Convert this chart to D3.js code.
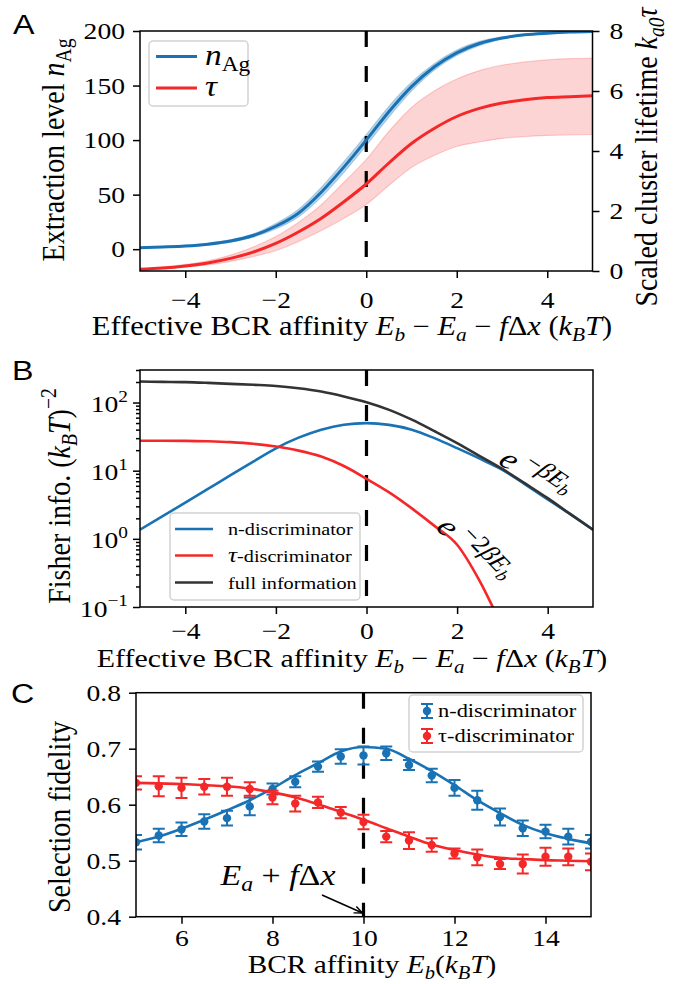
<!DOCTYPE html>
<html>
<head>
<meta charset="utf-8">
<script src="https://cdn.jsdelivr.net/npm/d3@7"></script>
<style>
  body { margin: 0; background: #fff; }
</style>
</head>
<body>
<svg id="fig" width="679" height="984"></svg>
<script>
// ---- data ----
// panel A / B share the effective affinity grid
var effAff = [-5, -4.5, -4, -3.5, -3, -2.5, -2, -1.5, -1, -0.5, 0, 0.5, 1, 1.5, 2, 2.5, 3, 3.5, 4, 4.5, 5];
var nAg   = [1.3, 2.0, 2.9, 4.6, 7.5, 12.5, 21, 33, 52, 75, 100, 126, 149, 167, 180, 188.5, 193.5, 196.5, 198, 199, 199.5];
var nAgLo = [1.0, 1.6, 2.4, 3.9, 6.5, 11, 18.5, 29.5, 47.5, 70, 95, 121, 145, 164, 177.5, 186.5, 192.5, 196, 197.5, 198.8, 199.3];
var nAgHi = [1.6, 2.4, 3.4, 5.3, 8.5, 14, 23.5, 36.5, 56.5, 80, 105, 131, 153, 170, 182.5, 190.5, 194.5, 197, 198.5, 199.3, 199.7];
var tau   = [0.06, 0.1, 0.17, 0.27, 0.42, 0.63, 0.92, 1.3, 1.75, 2.3, 2.9, 3.6, 4.25, 4.75, 5.15, 5.42, 5.6, 5.71, 5.78, 5.81, 5.84];
var tauLo = [0.04, 0.07, 0.13, 0.2, 0.32, 0.48, 0.68, 0.98, 1.34, 1.75, 2.22, 2.85, 3.45, 3.85, 4.15, 4.3, 4.42, 4.48, 4.52, 4.54, 4.55];
var tauHi = [0.08, 0.13, 0.22, 0.34, 0.53, 0.8, 1.15, 1.62, 2.2, 2.95, 3.72, 4.65, 5.45, 6.0, 6.4, 6.68, 6.86, 6.97, 7.04, 7.08, 7.1];

var fisherFull = [203, 201, 199, 194, 188, 182, 175, 162, 145, 123, 101, 78, 56, 38, 25.4, 16.4, 10.6, 6.5, 3.95, 2.3, 1.36];
var fisherN    = [1.36, 2.15, 3.4, 5.4, 8.6, 13.6, 21.3, 30.5, 40, 47.3, 49.8, 47, 40, 30, 21.4, 15, 10.3, 6.3, 3.8, 2.3, 1.36];
var fisherTau  = [27.5, 27.5, 27.4, 27, 26.2, 24.8, 22.6, 19.7, 16.1, 11.7, 7.6, 4.8, 2.8, 1.55, 0.82, 0.24, 0.05];

// panel C
var bcrAff    = [5, 5.5, 6, 6.5, 7, 7.5, 8, 8.5, 9, 9.5, 10, 10.5, 11, 11.5, 12, 12.5, 13, 13.5, 14, 14.5, 15];
var fidN      = [0.533, 0.545, 0.556, 0.570, 0.576, 0.597, 0.628, 0.641, 0.668, 0.686, 0.688, 0.692, 0.671, 0.652, 0.630, 0.608, 0.578, 0.558, 0.552, 0.543, 0.534];
var fidNErr   = [0.013, 0.012, 0.012, 0.013, 0.013, 0.016, 0.010, 0.010, 0.009, 0.013, 0.016, 0.012, 0.009, 0.012, 0.014, 0.017, 0.015, 0.014, 0.012, 0.014, 0.012];
var fidTau    = [0.639, 0.633, 0.630, 0.632, 0.632, 0.628, 0.613, 0.602, 0.604, 0.586, 0.569, 0.543, 0.536, 0.528, 0.513, 0.506, 0.494, 0.494, 0.507, 0.507, 0.498];
var fidTauErr = [0.012, 0.018, 0.018, 0.014, 0.016, 0.012, 0.012, 0.014, 0.010, 0.010, 0.013, 0.010, 0.015, 0.012, 0.009, 0.014, 0.009, 0.017, 0.016, 0.015, 0.015];
var fitN      = [0.533, 0.543, 0.557, 0.573, 0.590, 0.608, 0.629, 0.653, 0.674, 0.695, 0.703, 0.700, 0.682, 0.660, 0.635, 0.608, 0.585, 0.564, 0.549, 0.539, 0.531];
var fitTau    = [0.639, 0.638, 0.637, 0.635, 0.633, 0.629, 0.622, 0.613, 0.601, 0.587, 0.573, 0.558, 0.543, 0.529, 0.519, 0.511, 0.505, 0.503, 0.501, 0.500, 0.499];

var ticksA = [-4, -2, 0, 2, 4];
var ticksAn = [0, 50, 100, 150, 200];
var ticksAt = [0, 2, 4, 6, 8];
var ticksB = [0.1, 1, 10, 100];
var ticksC = [6, 8, 10, 12, 14];
var ticksCy = [0.4, 0.5, 0.6, 0.7, 0.8];

// ---- style ----
var K = 1.15; // glyphs in the reference are wider than tall
var SERIF = "'Liberation Serif','Times New Roman',serif";
var SANS = "'Liberation Sans',Arial,sans-serif";
var BLUE = "#1872b4", RED = "#f42828", DARK = "#333333";
var TICK = 24;

var svg = d3.select("#fig");

// text with italic / sub / superscript pieces, stretched by K
function mtext(g, x, y, parts, o) {
  o = o || {};
  var fs = o.size || TICK;
  var t = g.append("text")
    .attr("transform", "translate(" + x + "," + y + ") scale(" + K + ",1)" + (o.rot ? " rotate(" + o.rot + ")" : ""))
    .attr("text-anchor", o.anchor || "start")
    .style("font-family", o.family || SERIF)
    .style("font-size", fs + "px")
    .attr("fill", o.color || "#000");
  var cur = 0;
  parts.forEach(function (p) {
    if (typeof p === "string") p = { t: p };
    var off = (p.off || 0) * fs;
    var s = t.append("tspan").text(p.t).attr("dy", off - cur);
    cur = off;
    if (p.it) s.style("font-style", "italic");
    if (p.sz) s.style("font-size", (p.sz * fs) + "px");
  });
  return t;
}
function sub(t, it) { return { t: t, it: it, sz: 0.7, off: 0.22 }; }
function sup(t, it) { return { t: t, it: it, sz: 0.7, off: -0.42 }; }

function stretchTicks(ax) {
  ax.selectAll(".tick text").each(function () {
    var t = d3.select(this);
    var x = +t.attr("x") || 0, y = +t.attr("y") || 0;
    t.attr("x", null).attr("y", null)
      .attr("transform", "translate(" + x + "," + y + ") scale(" + K + ",1)");
  });
}
function styleAxis(ax) {
  ax.select(".domain").remove();
  ax.attr("font-family", SERIF).attr("font-size", TICK);
  ax.selectAll(".tick line").attr("stroke-width", 1.5);
  stretchTicks(ax);
}
function frame(g, x, y) {
  var r = x.range(), h = y.range();
  g.append("rect").attr("x", r[0]).attr("y", h[1])
    .attr("width", r[1] - r[0]).attr("height", h[0] - h[1])
    .attr("fill", "none").attr("stroke", "#000").attr("stroke-width", 1.5);
}
function clip(id, x, y) {
  var r = x.range(), h = y.range();
  svg.append("clipPath").attr("id", id).append("rect")
    .attr("x", r[0]).attr("y", h[1]).attr("width", r[1] - r[0]).attr("height", h[0] - h[1]);
}
function vdash(g, x, y, v) {
  g.append("line").attr("x1", x(v)).attr("x2", x(v))
    .attr("y1", y.range()[1]).attr("y2", y.range()[0])
    .attr("stroke", "#000").attr("stroke-width", 3.2).attr("stroke-dasharray", "16,19");
}
function legendBox(g, x, y, w, h) {
  g.append("rect").attr("x", x).attr("y", y).attr("width", w).attr("height", h)
    .attr("rx", 4).attr("fill", "#fff").attr("fill-opacity", 0.8)
    .attr("stroke", "#d2d2d2").attr("stroke-width", 1.5);
}
var idx = d3.range(effAff.length);
var xLabelParts = ["Effective BCR affinity ", { t: "E", it: 1 }, sub("b", 1), " − ", { t: "E", it: 1 }, sub("a", 1),
  " − ", { t: "f", it: 1 }, "Δ", { t: "x", it: 1 }, " (", { t: "k", it: 1 }, sub("B", 1), { t: "T", it: 1 }, ")"];

// =============== panel A ===============
var xA = d3.scaleLinear().domain([-5, 5]).range([140, 592.5]);
var yAn = d3.scaleLinear().domain([-20, 200]).range([271, 31]);
var yAt = d3.scaleLinear().domain([0, 8]).range([271, 31]);
clip("clipA", xA, yAn);
var gA = svg.append("g");
var pA = gA.append("g").attr("clip-path", "url(#clipA)");

pA.append("path")
  .attr("d", d3.area().x(function (i) { return xA(effAff[i]); })
    .y0(function (i) { return yAt(tauLo[i]); }).y1(function (i) { return yAt(tauHi[i]); })
    .curve(d3.curveMonotoneX)(idx))
  .attr("fill", RED).attr("fill-opacity", 0.2)
  .attr("stroke", RED).attr("stroke-opacity", 0.2).attr("stroke-width", 1.2);
pA.append("path")
  .attr("d", d3.area().x(function (i) { return xA(effAff[i]); })
    .y0(function (i) { return yAn(nAgLo[i]); }).y1(function (i) { return yAn(nAgHi[i]); })
    .curve(d3.curveMonotoneX)(idx))
  .attr("fill", BLUE).attr("fill-opacity", 0.3)
  .attr("stroke", BLUE).attr("stroke-opacity", 0.25).attr("stroke-width", 1.2);
vdash(pA, xA, yAn, 0);
pA.append("path")
  .attr("d", d3.line().x(function (i) { return xA(effAff[i]); }).y(function (i) { return yAt(tau[i]); })
    .curve(d3.curveMonotoneX)(idx))
  .attr("fill", "none").attr("stroke", RED).attr("stroke-width", 3);
pA.append("path")
  .attr("d", d3.line().x(function (i) { return xA(effAff[i]); }).y(function (i) { return yAn(nAg[i]); })
    .curve(d3.curveMonotoneX)(idx))
  .attr("fill", "none").attr("stroke", BLUE).attr("stroke-width", 3);
frame(gA, xA, yAn);

var axA = gA.append("g").attr("transform", "translate(0,271)")
  .call(d3.axisBottom(xA).tickValues(ticksA).tickSize(7).tickPadding(13));
styleAxis(axA);
var ayA = gA.append("g").attr("transform", "translate(140,0)")
  .call(d3.axisLeft(yAn).tickValues(ticksAn).tickSize(7).tickPadding(8));
styleAxis(ayA);
var ayA2 = gA.append("g").attr("transform", "translate(592.5,0)")
  .call(d3.axisRight(yAt).tickValues(ticksAt).tickSize(7).tickPadding(10));
styleAxis(ayA2);

// legend A
legendBox(gA, 149, 41, 99, 65);
var legA = [
  { c: BLUE, y: 56.5, parts: [{ t: "n", it: 1 }, sub("Ag")] },
  { c: RED, y: 88, parts: [{ t: "τ", it: 1 }] }
];
legA.forEach(function (d) {
  gA.append("line").attr("x1", 156).attr("x2", 197).attr("y1", d.y).attr("y2", d.y)
    .attr("stroke", d.c).attr("stroke-width", 3);
  mtext(gA, 205, d.y + 8, d.parts, { size: 29 });
});

mtext(gA, 352, 335, xLabelParts, { size: 26.5, anchor: "middle" });
mtext(gA, 64, 150, ["Extraction level ", { t: "n", it: 1 }, sub("Ag")], { size: 28, anchor: "middle", rot: -90 });
mtext(gA, 657, 157, ["Scaled cluster lifetime ", { t: "k", it: 1 }, sub("a0", 1), { t: "τ", it: 1 }], { size: 28, anchor: "middle", rot: -90 });
mtext(gA, 13, 34, ["A"], { size: 28, family: SANS });

// =============== panel B ===============
var xB = d3.scaleLinear().domain([-5, 5]).range([140, 593]);
var yB = d3.scaleLog().domain([0.1, 300]).range([607, 370]);
clip("clipB", xB, yB);
var gB = svg.append("g");
var pB = gB.append("g").attr("clip-path", "url(#clipB)");
vdash(pB, xB, yB, 0);
var seriesB = [
  { v: fisherN, c: BLUE },
  { v: fisherTau, c: RED },
  { v: fisherFull, c: DARK }
];
seriesB.forEach(function (s) {
  pB.append("path")
    .attr("d", d3.line().x(function (i) { return xB(effAff[i]); }).y(function (i) { return yB(s.v[i]); })
      .curve(d3.curveMonotoneX)(d3.range(s.v.length)))
    .attr("fill", "none").attr("stroke", s.c).attr("stroke-width", 2.6);
});
frame(gB, xB, yB);

var axB = gB.append("g").attr("transform", "translate(0,607)")
  .call(d3.axisBottom(xB).tickValues(ticksA).tickSize(7).tickPadding(8));
styleAxis(axB);
var minorB = [];
[-1, 0, 1, 2].forEach(function (e) {
  d3.range(2, 10).forEach(function (m) { if (m * Math.pow(10, e) <= 300) minorB.push(m * Math.pow(10, e)); });
});
var ayBm = gB.append("g").attr("transform", "translate(140,0)")
  .call(d3.axisLeft(yB).tickValues(minorB).tickSize(4).tickFormat(""));
styleAxis(ayBm);
var ayB = gB.append("g").attr("transform", "translate(140,0)")
  .call(d3.axisLeft(yB).tickValues(ticksB).tickSize(7).tickFormat(""));
styleAxis(ayB);
ayB.selectAll(".tick").each(function (d) {
  var e = Math.round(Math.log10(d));
  mtext(d3.select(this), -12, 9, ["10", sup(e < 0 ? "−" + (-e) : String(e))], { size: TICK, anchor: "end" });
});

// legend B
legendBox(gB, 170, 513, 190, 87);
var legB = [
  { c: BLUE, y: 529, parts: ["n-discriminator"] },
  { c: RED, y: 555.5, parts: [{ t: "τ", it: 1, sz: 1.25 }, "-discriminator"] },
  { c: DARK, y: 582.5, parts: ["full information"] }
];
legB.forEach(function (d) {
  gB.append("line").attr("x1", 175).attr("x2", 213).attr("y1", d.y).attr("y2", d.y)
    .attr("stroke", d.c).attr("stroke-width", 2.6);
  mtext(gB, 228, d.y + 6, d.parts, { size: 17.6 });
});

function expParts(k) {
  return [{ t: "e", it: 1 }, { t: " −" + k, sz: 0.78, off: -0.42 }, { t: "β", it: 1, sz: 0.78, off: -0.42 },
    { t: "E", it: 1, sz: 0.78, off: -0.42 }, { t: "b", it: 1, sz: 0.55, off: -0.28 }];
}
mtext(gB, 497, 463, expParts(""), { size: 30, rot: 38 });
mtext(gB, 435, 528, expParts("2"), { size: 30, rot: 50 });

mtext(gB, 352, 667, xLabelParts, { size: 26, anchor: "middle" });
mtext(gB, 70, 496, ["Fisher info. (", { t: "k", it: 1 }, sub("B", 1), { t: "T", it: 1 }, ")", sup("−2")],
  { size: 28, anchor: "middle", rot: -90 });
mtext(gB, 12, 380, ["B"], { size: 28, family: SANS });

// =============== panel C ===============
var xC = d3.scaleLinear().domain([5, 15]).range([136, 591]);
var yC = d3.scaleLinear().domain([0.4, 0.8]).range([916.7, 692.7]);
clip("clipC", xC, yC);
var gC = svg.append("g");
var pC = gC.append("g").attr("clip-path", "url(#clipC)");
vdash(pC, xC, yC, 10);
var cIdx = d3.range(bcrAff.length);
var seriesC = [
  { v: fidN, e: fidNErr, f: fitN, c: BLUE },
  { v: fidTau, e: fidTauErr, f: fitTau, c: RED }
];
seriesC.forEach(function (s) {
  pC.append("path")
    .attr("d", d3.line().x(function (i) { return xC(bcrAff[i]); }).y(function (i) { return yC(s.f[i]); })
      .curve(d3.curveMonotoneX)(cIdx))
    .attr("fill", "none").attr("stroke", s.c).attr("stroke-width", 2.6);
  var pts = pC.append("g").selectAll("g").data(cIdx).enter().append("g")
    .attr("stroke", s.c).attr("fill", s.c).attr("stroke-width", 2);
  pts.append("line")
    .attr("x1", function (i) { return xC(bcrAff[i]); }).attr("x2", function (i) { return xC(bcrAff[i]); })
    .attr("y1", function (i) { return yC(s.v[i] - s.e[i]); }).attr("y2", function (i) { return yC(s.v[i] + s.e[i]); });
  [-1, 1].forEach(function (sg) {
    pts.append("line")
      .attr("x1", function (i) { return xC(bcrAff[i]) - 6; }).attr("x2", function (i) { return xC(bcrAff[i]) + 6; })
      .attr("y1", function (i) { return yC(s.v[i] + sg * s.e[i]); }).attr("y2", function (i) { return yC(s.v[i] + sg * s.e[i]); });
  });
  pts.append("circle")
    .attr("cx", function (i) { return xC(bcrAff[i]); }).attr("cy", function (i) { return yC(s.v[i]); })
    .attr("r", 4.2).attr("stroke", "none");
});
frame(gC, xC, yC);

var axC = gC.append("g").attr("transform", "translate(0,916.7)")
  .call(d3.axisBottom(xC).tickValues(ticksC).tickSize(7).tickPadding(5));
styleAxis(axC);
var ayC = gC.append("g").attr("transform", "translate(136,0)")
  .call(d3.axisLeft(yC).tickValues(ticksCy).tickSize(7).tickPadding(8).tickFormat(d3.format(".1f")));
styleAxis(ayC);

// legend C
legendBox(gC, 409, 695, 174, 57);
var legC = [
  { c: BLUE, y: 711, label: "n-discriminator" },
  { c: RED, y: 736, label: "τ-discriminator" }
];
legC.forEach(function (d) {
  var g = gC.append("g").attr("stroke", d.c).attr("fill", d.c).attr("stroke-width", 2);
  g.append("line").attr("x1", 427).attr("x2", 427).attr("y1", d.y - 7).attr("y2", d.y + 7);
  g.append("line").attr("x1", 421).attr("x2", 433).attr("y1", d.y - 7).attr("y2", d.y - 7);
  g.append("line").attr("x1", 421).attr("x2", 433).attr("y1", d.y + 7).attr("y2", d.y + 7);
  g.append("circle").attr("cx", 427).attr("cy", d.y).attr("r", 4.2).attr("stroke", "none");
  mtext(gC, 438, d.y + 6, [d.label], { size: 19.5 });
});

// annotation
mtext(gC, 278, 885, [{ t: "E", it: 1 }, sub("a", 1), " + ", { t: "f", it: 1 }, "Δ", { t: "x", it: 1 }], { size: 29.5, anchor: "middle" });
var ax0 = 322, ay0 = 895, ax1 = xC(10) - 1, ay1 = 913;
var ang = Math.atan2(ay1 - ay0, ax1 - ax0);
gC.append("line").attr("x1", ax0).attr("y1", ay0).attr("x2", ax1).attr("y2", ay1)
  .attr("stroke", "#000").attr("stroke-width", 1.4);
gC.append("path")
  .attr("d", "M" + (ax1 - 9 * Math.cos(ang - 0.4)) + "," + (ay1 - 9 * Math.sin(ang - 0.4)) +
    "L" + ax1 + "," + ay1 + "L" + (ax1 - 9 * Math.cos(ang + 0.4)) + "," + (ay1 - 9 * Math.sin(ang + 0.4)))
  .attr("fill", "none").attr("stroke", "#000").attr("stroke-width", 1.4);

mtext(gC, 372, 973, ["BCR affinity  ", { t: "E", it: 1 }, sub("b", 1), "(", { t: "k", it: 1 }, sub("B", 1), { t: "T", it: 1 }, ")"],
  { size: 25.5, anchor: "middle" });
mtext(gC, 70, 817, ["Selection fidelity"], { size: 28, anchor: "middle", rot: -90 });
mtext(gC, 11, 703, ["C"], { size: 28, family: SANS });
</script>
</body>
</html>
